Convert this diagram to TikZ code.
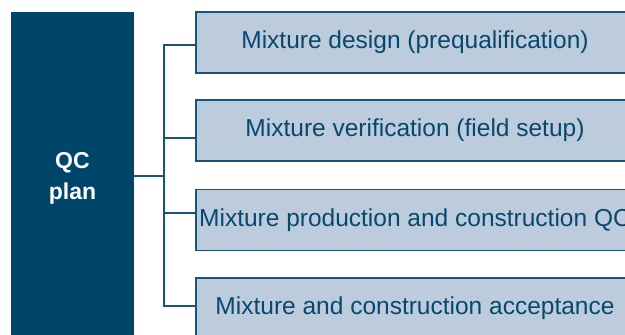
\documentclass[tikz,border=0pt]{standalone}
\usepackage{fontspec}
\setmainfont{Liberation Sans}
\usepackage{xcolor}
\usetikzlibrary{positioning,calc}

\definecolor{planblue}{RGB}{0,70,107}
\definecolor{stepfill}{RGB}{188,204,220}
\definecolor{stepline}{RGB}{24,84,122}
\definecolor{steptext}{RGB}{8,72,110}

\begin{document}
\begin{tikzpicture}[x=1pt, y=-1pt,
    plan/.style={rectangle, fill=planblue, minimum width=123pt, minimum height=333pt, inner sep=0pt, text=white, align=center, font=\bfseries\fontsize{23}{31}\selectfont},
    stepbox/.style={rectangle, draw=stepline, fill=stepfill, line width=1.4pt, minimum width=438pt, minimum height=61pt, inner sep=0pt, text=steptext, font=\fontsize{24.5}{28}\selectfont},
    link/.style={draw=stepline, line width=1.2pt}
]
    \useasboundingbox (0,0) rectangle (625,335);
    \clip (0,0) rectangle (625,335);

    % QC plan block
    \node[plan] (qcplan) at (72.5,178.5) {QC\\plan};

    % Plan stages
    \node[stepbox] (design) at (415,42.5) {Mixture design (prequalification)};
    \node[stepbox] (verify) at (415,130.5) {Mixture verification (field setup)};
    \node[stepbox] (produce) at (415,220) {Mixture production and construction QC};
    \node[stepbox] (accept) at (415,308.5) {Mixture and construction acceptance};

    % Bracket connectors
    \coordinate (hub) at (164,176);
    \draw[link] (qcplan.east |- hub) -- (hub);
    \draw[link] ([yshift=-2.5pt]design.west) -| (hub);
    \draw[link] ([yshift=-7.5pt]verify.west) -| (hub);
    \draw[link] ([yshift=7pt]produce.west) -| (hub);
    \draw[link] ([yshift=2.5pt]accept.west) -| (hub);
\end{tikzpicture}
\end{document}
